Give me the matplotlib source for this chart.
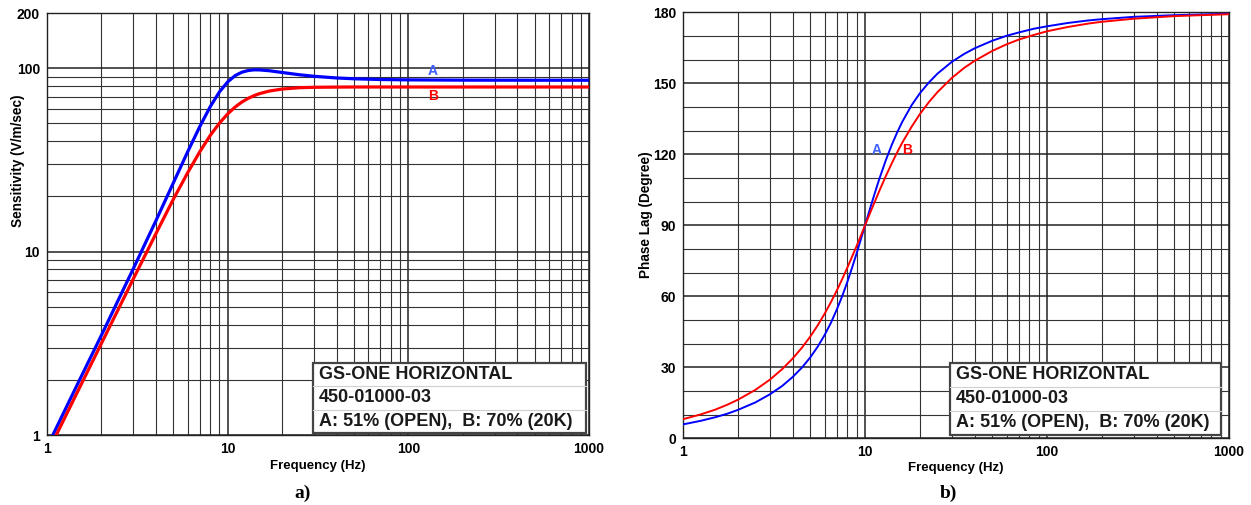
import matplotlib
matplotlib.use('Agg')
import matplotlib.pyplot as plt
from matplotlib.ticker import LogLocator, MultipleLocator, FixedLocator, NullFormatter
from matplotlib.patches import Rectangle

plt.rcParams['font.family'] = ['Liberation Sans', 'DejaVu Sans']

# values (A: 51% open, B: 70% 20K shunt)
# a) sensitivity
freq_s = [1, 1.5, 2, 3, 4, 5, 6, 7, 8, 9, 10, 11, 12, 13, 14, 15, 17, 20, 25, 30,
          40, 50, 70, 100, 200, 500, 1000]
sens_a = [0.86, 1.96, 3.5, 8.06, 14.7, 23.7, 35.0, 48.0, 61.7, 74.3, 84.3, 91.2,
          95.2, 97.2, 98.0, 97.9, 96.9, 94.8, 92.1, 90.4, 88.5, 87.6, 86.8, 86.4,
          86.1, 86.0, 86.0]
sens_b = [0.79, 1.78, 3.16, 7.09, 12.5, 19.3, 26.9, 35.0, 43.0, 50.2, 56.4, 61.5,
          65.5, 68.6, 70.9, 72.7, 75.1, 77.0, 78.3, 78.7, 78.9, 79.0, 79.0, 79.0,
          79.0, 79.0, 79.0]

# b) phase lag
freq_p = [1, 1.25, 1.5, 1.75, 2, 2.5, 3, 3.5, 4, 4.5, 5, 5.5, 6, 6.5, 7, 7.5, 8,
          8.5, 9, 9.5, 10, 10.5, 11, 11.5, 12, 13, 14, 15, 16, 18, 20, 22.5, 25,
          30, 35, 40, 50, 60, 70, 85, 100, 130, 170, 200, 300, 500, 1000]
phase_a = [5.9, 7.4, 8.9, 10.4, 12.0, 15.2, 18.6, 22.1, 25.9, 29.9, 34.2, 38.8,
           43.7, 48.9, 54.5, 60.2, 66.2, 72.3, 78.3, 84.3, 90.0, 95.5, 100.6,
           105.4, 109.8, 117.5, 123.9, 129.2, 133.7, 140.7, 145.8, 150.5, 154.1,
           159.1, 162.4, 164.8, 168.0, 170.1, 171.5, 173.1, 174.1, 175.5, 176.6,
           177.1, 178.1, 178.8, 179.4]
phase_b = [8.1, 10.1, 12.1, 14.2, 16.3, 20.5, 24.8, 29.2, 33.7, 38.3, 43.0, 47.8,
           52.7, 57.6, 62.5, 67.4, 72.2, 76.9, 81.4, 85.8, 90.0, 94.0, 97.8,
           101.3, 104.7, 110.8, 116.1, 120.8, 124.9, 131.6, 137.0, 142.2, 146.3,
           152.3, 156.5, 159.5, 163.7, 166.5, 168.5, 170.5, 172.0, 173.8, 175.3,
           176.0, 177.3, 178.4, 179.2]

x_ticks = [1, 10, 100, 1000]
sens_ticks = [1, 10, 100, 200]
phase_ticks = [0, 30, 60, 90, 120, 150, 180]
box_lines = ['GS-ONE HORIZONTAL', '450-01000-03', 'A: 51% (OPEN),  B: 70% (20K)']

BLUE = '#0000ff'
RED = '#ff0000'


def style_grid(ax):
    ax.grid(which='major', color='#222222', lw=1.1)
    ax.grid(which='minor', color='#333333', lw=0.8)
    ax.set_axisbelow(True)
    ax.tick_params(which='both', length=0, pad=5, labelsize=10)
    for lab in ax.get_xticklabels() + ax.get_yticklabels():
        lab.set_fontweight('bold')
    for s in ax.spines.values():
        s.set_color('#222222')
        s.set_linewidth(1.0)


def info_box(ax, x0, y0, w, h):
    ax.add_patch(Rectangle((x0, y0), w, h, transform=ax.transAxes,
                           facecolor='white', edgecolor='#444444', lw=1.6, zorder=5))
    for k in (1, 2):
        ax.plot([x0, x0 + w], [y0 + h * k / 3] * 2, transform=ax.transAxes,
                color='#d0d0d0', lw=0.8, zorder=6)
    for i, line in enumerate(box_lines):
        ax.text(x0 + 0.01, y0 + h * (5 - 2 * i) / 6, line, transform=ax.transAxes,
                fontsize=13, fontweight='bold', va='center', ha='left', zorder=7,
                color='#1a1a1a')


fig = plt.figure(figsize=(12.51, 5.05), dpi=100)

# ---- a) sensitivity
ax1 = fig.add_axes([0.0376, 0.1386, 0.4333, 0.8356])
ax1.set_xscale('log')
ax1.set_yscale('log')
ax1.plot(freq_s, sens_a, color=BLUE, lw=2.3, zorder=3)
ax1.plot(freq_s, sens_b, color=RED, lw=2.3, zorder=3)
ax1.set_xlim(1, 1000)
ax1.set_ylim(1, 200)
ax1.xaxis.set_major_locator(FixedLocator(x_ticks))
ax1.xaxis.set_minor_locator(LogLocator(subs=range(2, 10)))
ax1.yaxis.set_major_locator(FixedLocator(sens_ticks))
ax1.yaxis.set_minor_locator(LogLocator(subs=range(2, 10)))
ax1.xaxis.set_minor_formatter(NullFormatter())
ax1.yaxis.set_minor_formatter(NullFormatter())
ax1.set_xticklabels([str(v) for v in x_ticks])
ax1.set_yticklabels([str(v) for v in sens_ticks])
style_grid(ax1)
ax1.set_xlabel('Frequency (Hz)', fontsize=9.5, fontweight='bold', labelpad=3)
ax1.set_ylabel('Sensitivity (V/m/sec)', fontsize=9.8, fontweight='bold')
ax1.yaxis.set_label_coords(-0.041, 0.649)
ax1.text(137, 96, 'A', color='#4060ff', fontsize=10, fontweight='bold', ha='center', va='center')
ax1.text(137, 70.4, 'B', color=RED, fontsize=10, fontweight='bold', ha='center', va='center')
info_box(ax1, 0.491, 0.005, 0.503, 0.166)

# ---- b) phase
ax2 = fig.add_axes([0.546, 0.132, 0.4365, 0.8436])
ax2.set_xscale('log')
ax2.plot(freq_p, phase_a, color=BLUE, lw=1.4, zorder=3)
ax2.plot(freq_p, phase_b, color=RED, lw=1.4, zorder=3)
ax2.set_xlim(1, 1000)
ax2.set_ylim(0, 180)
ax2.xaxis.set_major_locator(FixedLocator(x_ticks))
ax2.xaxis.set_minor_locator(LogLocator(subs=range(2, 10)))
ax2.xaxis.set_minor_formatter(NullFormatter())
ax2.set_xticklabels([str(v) for v in x_ticks])
ax2.yaxis.set_major_locator(FixedLocator(phase_ticks))
ax2.yaxis.set_minor_locator(MultipleLocator(10))
style_grid(ax2)
ax2.set_xlabel('Frequency (Hz)', fontsize=9.5, fontweight='bold', labelpad=2)
ax2.set_ylabel('Phase Lag (Degree)', fontsize=9.8, fontweight='bold')
ax2.yaxis.set_label_coords(-0.055, 0.524)
ax2.text(11.6, 121.8, 'A', color='#4060ff', fontsize=10, fontweight='bold', ha='center', va='center')
ax2.text(17.1, 121.8, 'B', color=RED, fontsize=10, fontweight='bold', ha='center', va='center')
info_box(ax2, 0.489, 0.008, 0.496, 0.169)

fig.text(0.2415, 0.013, 'a)', fontsize=14, fontweight='bold', family='Liberation Serif', ha='center')
fig.text(0.758, 0.013, 'b)', fontsize=14, fontweight='bold', family='Liberation Serif', ha='center')

fig.savefig('out.png', dpi=100)
